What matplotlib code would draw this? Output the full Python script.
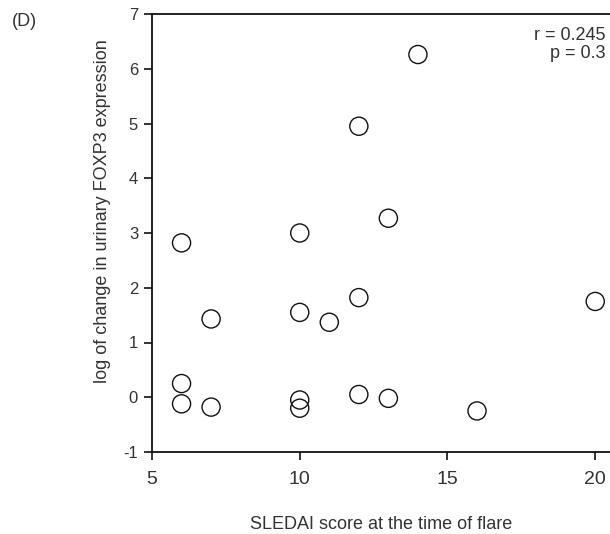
import matplotlib.pyplot as plt

# SLEDAI score vs log change in urinary FOXP3
sledai = [6, 6, 6, 7, 7, 10, 10, 10, 10, 11, 12, 12, 12, 13, 13, 14, 16, 20]
log_change = [2.82, 0.25, -0.12, 1.43, -0.18, 3.0, 1.55, -0.05, -0.2, 1.37,
              4.95, 1.82, 0.05, 3.27, -0.02, 6.26, -0.25, 1.75]

plt.rcParams['font.family'] = ['Liberation Sans', 'DejaVu Sans']
plt.rcParams['axes.unicode_minus'] = False
txt = '#333333'

fig = plt.figure(figsize=(6.1, 5.34), dpi=100)
ax = fig.add_axes([152 / 610, 82 / 534, (610 - 152) / 610, (452 - 14) / 534])

ax.scatter(sledai, log_change, s=170, facecolors='none', edgecolors='#111111',
           linewidths=1.0, zorder=3)

ax.set_xlim(5, 20.5)
ax.set_ylim(-1, 7)
ax.set_xticks([5, 10, 15, 20])
ax.set_yticks(range(-1, 8))
ax.spines['right'].set_visible(False)
for s in ['left', 'bottom', 'top']:
    ax.spines[s].set_linewidth(1.3)
    ax.spines[s].set_color('#111111')
ax.tick_params(axis='both', direction='out', length=6, width=1.2, colors='#111111',
               labelcolor=txt)
ax.tick_params(axis='x', labelsize=14, pad=8)
ax.tick_params(axis='y', labelsize=12, pad=4)

ax.set_xlabel('SLEDAI score at the time of flare', fontsize=13, color=txt, labelpad=20)
ax.set_ylabel('log of change in urinary FOXP3 expression', fontsize=13, color=txt)
ax.yaxis.set_label_coords(-0.09, 0.55)

ax.text(0.99, 0.97, 'r = 0.245\np = 0.3', transform=ax.transAxes, ha='right', va='top',
        fontsize=13, color=txt, linespacing=1.1)
fig.text(12 / 610, 1 - 22 / 534, '(D)', fontsize=13, color=txt, va='center')

fig.savefig('out.png', dpi=100)
